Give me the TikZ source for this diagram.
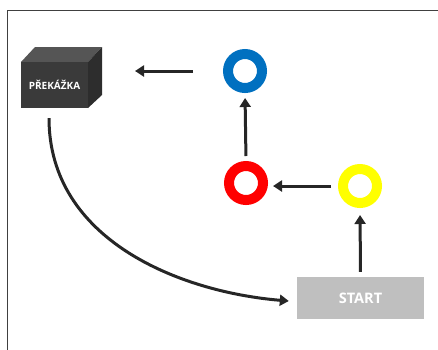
\documentclass[tikz,border=0pt]{standalone}
\usepackage{fontspec}
\setmainfont{Open Sans}
\usetikzlibrary{arrows.meta}
\definecolor{ringblue}{RGB}{0,112,192}
\definecolor{ringred}{RGB}{255,0,0}
\definecolor{ringyellow}{RGB}{255,255,0}
\definecolor{startgray}{RGB}{191,191,191}
\definecolor{boxfront}{RGB}{58,58,58}
\definecolor{boxtop}{RGB}{85,85,85}
\definecolor{boxside}{RGB}{45,45,45}
\definecolor{framegray}{RGB}{64,64,64}

\begin{document}
\begin{tikzpicture}[x=1pt, y=-1pt,
  ring/.style={circle, draw=#1, line width=10pt, minimum size=34pt, inner sep=0pt},
  flow/.style={line width=3pt, black!85, -{Triangle[length=9pt,width=11pt]}}]
\useasboundingbox (0,0) rectangle (438,349);
% frame
\draw[framegray, line width=1.3pt] (440,10.5) -- (7.5,10.5) -- (7.5,351);
% obstacle box
\fill[boxtop] (21,62) -- (35,47) -- (102,47) -- (88,62) -- cycle;
\fill[boxside] (88,62) -- (102,47) -- (102,95) -- (88,108) -- cycle;
\node[fill=boxfront, minimum width=67pt, minimum height=46pt, inner sep=0pt,
  text=white, font=\fontsize{10}{12}\selectfont\bfseries] (box) at (54.5,85) {PŘEKÁŽKA};
\coordinate (boxface) at (102,70);
% rings
\node[ring=ringblue] (blue) at (245,71) {};
\node[ring=ringred] (red) at (246,183) {};
\node[ring=ringyellow] (yellow) at (360,186) {};
% start
\node[fill=startgray, minimum width=127pt, minimum height=42pt, inner sep=0pt,
  text=white, font=\fontsize{14.5}{16}\selectfont\bfseries] (start) at (360.5,298) {START};
% arrows
\draw[flow, shorten <=5pt, shorten >=7pt] (start.north) -- (yellow.south);
\draw[flow, shorten <=7pt, shorten >=5pt] (yellow.west) -- (yellow.west -| red.east);
\draw[flow, shorten <=5pt, shorten >=5pt] (red.north) -- (blue.south);
\draw[flow, shorten <=30pt, shorten >=33pt] (blue.west) -- (blue.west -| boxface);
\coordinate (curvestart) at ([xshift=-5.5pt, yshift=-10pt]box.south);
\draw[flow] (curvestart) .. controls (49,240) and (180,292) .. ([xshift=-8pt, yshift=-3pt]start.west);
\end{tikzpicture}
\end{document}
